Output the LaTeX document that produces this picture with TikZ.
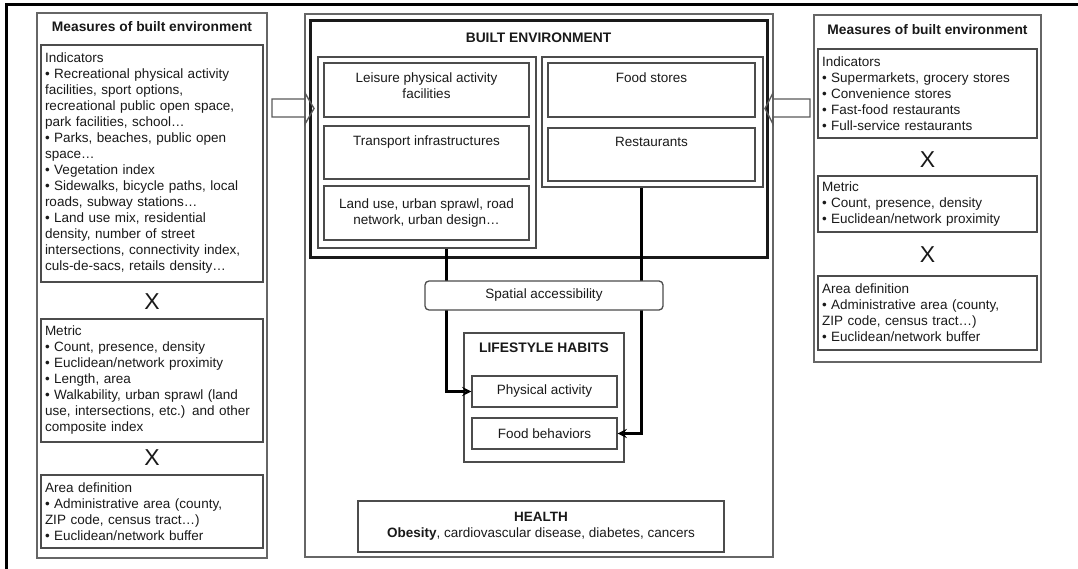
\documentclass[tikz,border=0pt]{standalone}
\usepackage{fontspec}
\setmainfont{Liberation Sans}
\usepackage{tikz}
\usetikzlibrary{calc}

\begin{document}
\begin{tikzpicture}[x=1pt,y=-1pt,every node/.style={font=\fontsize{13.5}{16}\selectfont,text=black!90},
panel/.style={draw=black!60,line width=1.3pt},
box/.style={draw=black!70,line width=1.3pt},
sz/.style 2 args={minimum width=#1,minimum height=#2},
txt/.style={text width=#1,align=left,inner xsep=4pt},
head/.style={font=\fontsize{13.8}{16}\selectfont\bfseries},
cross/.style={font=\fontsize{23}{23}\selectfont},
toptext/.style={label={[anchor=north,align=center,inner sep=10pt]north:#1}},
link/.style={draw=black,line width=3pt,-stealth},
blockarrow/.style={draw=black!65,line width=1.4pt}]
\useasboundingbox (0,0) rectangle (1078,569);
\draw[line width=3pt] (6,569) -- (6,5) -- (1078,5);

\node[panel,sz={230pt}{545pt}] (lpanel) at (152,285.5) {};
\node[head] (ltitle) at (152,27) {Measures of built environment};
\node[box,sz={222pt}{237pt},txt={214pt}] (lind) at (152,163.5) {Indicators\\
	• Recreational physical activity\\facilities, sport options,\\recreational public open space,\\park facilities, school…\\
	• Parks, beaches, public open\\space…\\
	• Vegetation index\\
	• Sidewalks, bicycle paths, local\\roads, subway stations…\\
	• Land use mix, residential\\density, number of street\\intersections, connectivity index,\\culs-de-sacs, retails density…};
\node[cross] (lx1) at (152,302) {X};
\node[box,sz={222pt}{123pt},txt={214pt}] (lmet) at (152,380.5) {Metric\\
	• Count, presence, density\\
	• Euclidean/network proximity\\
	• Length, area\\
	• Walkability, urban sprawl (land\\use, intersections, etc.) and other\\composite index};
\node[cross] (lx2) at (152,458) {X};
\node[box,sz={222pt}{73pt},txt={214pt}] (larea) at (152,511.5) {Area definition\\
	• Administrative area (county,\\ZIP code, census tract…)\\
	• Euclidean/network buffer};

\node[panel,sz={468pt}{543pt}] (cpanel) at (539,285.5) {};
\node[draw=black!90,line width=3pt,sz={457pt}{237pt},label={[head,anchor=north,inner sep=13pt]north:BUILT ENVIRONMENT}] (bebox) at (538.5,139.5) {};
\node[box,sz={218pt}{191pt}] (lgroup) at (427,152.5) {};
\node[box,sz={205pt}{54pt},toptext={Leisure physical activity\\facilities}] (leisure) at (426.5,90) {};
\node[box,sz={205pt}{53pt},toptext={Transport infrastructures}] (transport) at (426.5,152.5) {};
\node[box,sz={205pt}{54pt},align=center] (landuse) at (426.5,213) {Land use, urban sprawl, road\\network, urban design…};
\node[box,sz={221pt}{130pt}] (rgroup) at (652.5,122) {};
\node[box,sz={207pt}{54pt},toptext={Food stores}] (stores) at (651.5,90) {};
\node[box,sz={207pt}{53pt},toptext={Restaurants}] (restaurants) at (651.5,154.5) {};

\node[box,sz={160pt}{129pt},label={[head,anchor=north,inner sep=10pt]north:LIFESTYLE HABITS}] (life) at (544,397.5) {};
\node[box,sz={145pt}{31pt}] (phys) at (544.5,391.5) {Physical activity};
\node[box,sz={145pt}{31pt}] (foodb) at (544.5,433.5) {Food behaviors};
\node[box,sz={366pt}{51pt},align=center] (health) at (541,526.5) {{\bfseries HEALTH}\\{\bfseries Obesity}, cardiovascular disease, diabetes, cancers};

\coordinate (lout) at ([xshift=19pt]lgroup.south);
\coordinate (rout) at ([xshift=-11.5pt]rgroup.south);
\draw[link] (lout) |- (phys.west);
\draw[link] (rout) |- (foodb.east);
\node[box,rounded corners=4pt,fill=white,sz={238pt}{29pt}] (spatial) at (544,295.5) {Spatial accessibility};

\node[panel,sz={227pt}{347pt}] (rpanel) at (927.5,188.5) {};
\node[head] (rtitle) at (927.5,30) {Measures of built environment};
\node[box,sz={219pt}{89pt},txt={211pt}] (rind) at (927.5,93.5) {Indicators\\
	• Supermarkets, grocery stores\\
	• Convenience stores\\
	• Fast-food restaurants\\
	• Full-service restaurants};
\node[cross] (rx1) at (927.5,160) {X};
\node[box,sz={219pt}{56pt},txt={211pt}] (rmet) at (927.5,204) {Metric\\
	• Count, presence, density\\
	• Euclidean/network proximity};
\node[cross] (rx2) at (927.5,255) {X};
\node[box,sz={219pt}{74pt},txt={211pt}] (rarea) at (927.5,313) {Area definition\\
	• Administrative area (county,\\ZIP code, census tract…)\\
	• Euclidean/network buffer};

\draw[blockarrow] (272,99) -- (305,99) -- (305,93) -- (314,108.5) -- (305,124) -- (305,117) -- (272,117) -- cycle;
\draw[blockarrow] (810,99) -- (773,99) -- (773,93) -- (765,108.5) -- (773,124) -- (773,117) -- (810,117) -- cycle;
\end{tikzpicture}
\end{document}
